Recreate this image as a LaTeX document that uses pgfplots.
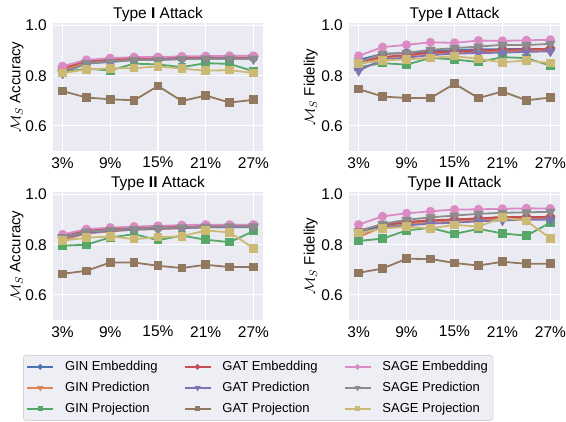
\documentclass[border=0pt]{standalone}
\usepackage{pgfplots}
\pgfplotsset{compat=1.18}
\usepackage{pgfplotstable}
\usepackage{fontspec}
\setmainfont{Liberation Sans}

\definecolor{bg}{HTML}{EAEAF2}
\definecolor{legfill}{HTML}{EEEEF5}
\definecolor{legedge}{HTML}{D6D6D6}
\definecolor{cGE}{HTML}{4C72B0}
\definecolor{cGP}{HTML}{DD8452}
\definecolor{cGJ}{HTML}{55A868}
\definecolor{cAE}{HTML}{C44E52}
\definecolor{cAP}{HTML}{8172B3}
\definecolor{cAJ}{HTML}{937860}
\definecolor{cSE}{HTML}{DA8BC3}
\definecolor{cSP}{HTML}{8C8C8C}
\definecolor{cSJ}{HTML}{CCB974}

% Type I Accuracy
\pgfplotstableread{
x  ge    gp    gj    ae    ap    aj    se    sp    sj
3  0.815 0.825 0.813 0.830 0.810 0.739 0.838 0.810 0.810
6  0.852 0.850 0.828 0.858 0.848 0.713 0.863 0.850 0.825
9  0.860 0.860 0.821 0.866 0.855 0.706 0.870 0.855 0.829
12 0.866 0.865 0.848 0.870 0.862 0.702 0.874 0.863 0.830
15 0.868 0.868 0.845 0.872 0.865 0.759 0.874 0.862 0.837
18 0.870 0.870 0.834 0.873 0.866 0.699 0.877 0.866 0.828
21 0.871 0.871 0.850 0.874 0.868 0.721 0.878 0.868 0.820
24 0.872 0.872 0.847 0.875 0.868 0.693 0.879 0.868 0.822
27 0.872 0.873 0.818 0.876 0.867 0.704 0.879 0.868 0.811
}\tA
% Type I Fidelity
\pgfplotstableread{
x  ge    gp    gj    ae    ap    aj    se    sp    sj
3  0.863 0.845 0.834 0.855 0.820 0.747 0.879 0.855 0.848
6  0.887 0.872 0.850 0.875 0.865 0.717 0.914 0.887 0.861
9  0.890 0.880 0.844 0.882 0.872 0.711 0.923 0.891 0.865
12 0.898 0.888 0.871 0.893 0.882 0.711 0.933 0.903 0.871
15 0.902 0.892 0.865 0.896 0.888 0.768 0.931 0.910 0.878
18 0.905 0.895 0.854 0.900 0.890 0.711 0.940 0.916 0.867
21 0.906 0.897 0.874 0.903 0.892 0.737 0.939 0.923 0.853
24 0.906 0.900 0.870 0.905 0.895 0.702 0.941 0.922 0.861
27 0.907 0.902 0.840 0.907 0.897 0.713 0.943 0.927 0.850
}\tB
% Type II Accuracy
\pgfplotstableread{
x  ge    gp    gj    ae    ap    aj    se    sp    sj
3  0.825 0.818 0.796 0.832 0.826 0.684 0.841 0.830 0.816
6  0.850 0.845 0.800 0.858 0.846 0.696 0.862 0.852 0.828
9  0.858 0.853 0.829 0.865 0.855 0.729 0.868 0.858 0.833
12 0.864 0.860 0.842 0.870 0.860 0.729 0.872 0.862 0.822
15 0.867 0.862 0.818 0.873 0.864 0.716 0.875 0.866 0.830
18 0.870 0.866 0.836 0.875 0.866 0.707 0.878 0.869 0.833
21 0.872 0.869 0.820 0.877 0.869 0.720 0.880 0.872 0.857
24 0.873 0.870 0.810 0.878 0.870 0.711 0.879 0.873 0.849
27 0.874 0.872 0.854 0.878 0.870 0.711 0.880 0.873 0.786
}\tC
% Type II Fidelity
\pgfplotstableread{
x  ge    gp    gj    ae    ap    aj    se    sp    sj
3  0.850 0.831 0.815 0.856 0.845 0.688 0.880 0.853 0.847
6  0.876 0.870 0.824 0.880 0.868 0.705 0.913 0.883 0.864
9  0.888 0.882 0.857 0.891 0.877 0.744 0.925 0.899 0.872
12 0.895 0.890 0.867 0.897 0.884 0.743 0.933 0.909 0.865
15 0.900 0.895 0.843 0.901 0.888 0.727 0.940 0.916 0.879
18 0.905 0.899 0.863 0.904 0.893 0.717 0.941 0.923 0.872
21 0.908 0.903 0.845 0.911 0.897 0.732 0.943 0.927 0.908
24 0.908 0.904 0.836 0.910 0.900 0.724 0.945 0.929 0.895
27 0.908 0.905 0.888 0.910 0.900 0.724 0.944 0.931 0.825
}\tD

\pgfplotsset{
  sE/.style={mark=*, mark size=3.6pt, mark options={solid}},
  sP/.style={mark=triangle*, mark size=4.3pt, mark options={solid, rotate=180}},
  sJ/.style={mark=square*, mark size=3.4pt, mark options={solid}},
  panel/.style={
    scale only axis, width=210pt, height=128pt,
    xmin=1.8, xmax=28.2, ymin=0.5, ymax=1.01,
    axis background/.style={fill=bg},
    axis line style={draw=none},
    major tick length=0pt,
    xtick={3,9,15,21,27},
    xticklabels={3\%,9\%,15\%,21\%,27\%},
    ytick={0.6,0.8,1.0},
    grid=major,
    major grid style={white, line width=1.2pt},
    /pgf/number format/assume math mode=true,
    tick label style={font=\fontsize{15.5}{18}\selectfont},
    yticklabel style={/pgf/number format/fixed, /pgf/number format/fixed zerofill, /pgf/number format/precision=1, inner sep=0pt, anchor=east, xshift=-6pt},
    xticklabel style={inner sep=0pt, anchor=north, yshift=-6pt},
    title style={font=\fontsize{15.5}{18}\selectfont, at={(axis description cs:0.5,1)}, anchor=base, yshift=-1.5pt, inner sep=0pt},
    ylabel style={font=\fontsize{15}{18}\selectfont, at={(axis description cs:-0.14,0.5)}, anchor=south, inner sep=0pt},
    every axis plot/.append style={line width=1.8pt},
    legend image code/.code={\draw[mark repeat=2, mark phase=2, mark size=1.7pt, sharp corners] plot coordinates {(0pt,0pt) (13pt,0pt) (26pt,0pt)};},
  }
}

\newcommand{\allplots}[1]{%
  \addplot[cGE, sE, forget plot] table[x=x, y=ge] {#1};
  \addplot[cGP, sP, forget plot] table[x=x, y=gp] {#1};
  \addplot[cGJ, sJ, forget plot] table[x=x, y=gj] {#1};
  \addplot[cAE, sE, forget plot] table[x=x, y=ae] {#1};
  \addplot[cAP, sP, forget plot] table[x=x, y=ap] {#1};
  \addplot[cAJ, sJ, forget plot] table[x=x, y=aj] {#1};
  \addplot[cSE, sE, forget plot] table[x=x, y=se] {#1};
  \addplot[cSP, sP, forget plot] table[x=x, y=sp] {#1};
  \addplot[cSJ, sJ, forget plot] table[x=x, y=sj] {#1};
}

\begin{document}
\begin{tikzpicture}
\path[use as bounding box] (0pt,0pt) rectangle (566pt,422pt);

\begin{axis}[panel, at={(53pt,271pt)}, anchor=south west,
  title={Type \textbf{I} Attack}, ylabel={$\mathcal{M}_S$ Accuracy}]
\allplots{\tA}
\end{axis}

\begin{axis}[panel, width=211pt, at={(349pt,271pt)}, anchor=south west,
  title={Type \textbf{I} Attack}, ylabel={$\mathcal{M}_S$ Fidelity},
  ylabel style={at={(axis description cs:-0.147,0.5)}}]
\allplots{\tB}
\end{axis}

\begin{axis}[panel, at={(53pt,102pt)}, anchor=south west,
  title={Type \textbf{II} Attack}, ylabel={$\mathcal{M}_S$ Accuracy},
  legend columns=3,
  legend style={at={(axis description cs:-0.1429,-0.2734)}, anchor=north west,
    fill=legfill, draw=legedge, line width=0.8pt, rounded corners=2.5pt,
    inner sep=3pt, font=\fontsize{13}{15}\selectfont,
    nodes={inner sep=2pt, text height=10pt, text depth=3pt},
    /tikz/every odd column/.style={column sep=9pt},
    /tikz/every even column/.style={column sep=24pt},
    row sep=4pt, cells={anchor=west}}]
\allplots{\tC}
\addlegendimage{cGE, sE}\addlegendentry{GIN Embedding}
\addlegendimage{cAE, sE}\addlegendentry{GAT Embedding}
\addlegendimage{cSE, sE}\addlegendentry{SAGE Embedding}
\addlegendimage{cGP, sP}\addlegendentry{GIN Prediction}
\addlegendimage{cAP, sP}\addlegendentry{GAT Prediction}
\addlegendimage{cSP, sP}\addlegendentry{SAGE Prediction}
\addlegendimage{cGJ, sJ}\addlegendentry{GIN Projection}
\addlegendimage{cAJ, sJ}\addlegendentry{GAT Projection}
\addlegendimage{cSJ, sJ}\addlegendentry{SAGE Projection}
\end{axis}

\begin{axis}[panel, width=211pt, at={(349pt,102pt)}, anchor=south west,
  title={Type \textbf{II} Attack}, ylabel={$\mathcal{M}_S$ Fidelity},
  ylabel style={at={(axis description cs:-0.147,0.5)}}]
\allplots{\tD}
\end{axis}
\end{tikzpicture}
\end{document}
